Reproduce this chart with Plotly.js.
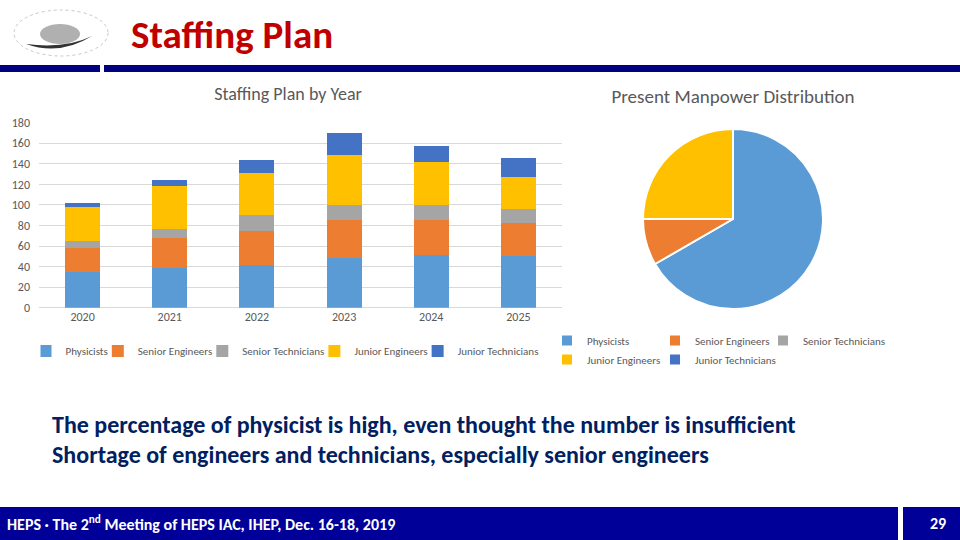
<!DOCTYPE html>
<html>
<head>
<meta charset="utf-8">
<script src="https://cdn.plot.ly/plotly-3.0.1.min.js"></script>
<style>
  html, body { margin: 0; padding: 0; background: #ffffff; }
  #wrap { position: relative; width: 960px; height: 540px; overflow: hidden; }
  #chart { position: absolute; left: 0; top: 0; width: 960px; height: 540px; }
  #pie { position: absolute; left: 540px; top: 80px; width: 380px; height: 320px; }
</style>
</head>
<body>
<div id="wrap">
  <div id="chart"></div>
  <div id="pie"></div>
</div>
<script>
// ---- data ----
const years = ['2020', '2021', '2022', '2023', '2024', '2025'];
const physicists = [35, 39, 42, 48, 51, 50];
const seniorEngineers = [23, 29, 33, 37, 34, 32];
const seniorTechnicians = [7, 9, 15, 15, 15, 14];
const juniorEngineers = [33, 41, 41, 49, 42, 31];
const juniorTechnicians = [4, 6, 13, 21, 15, 19];
const categories = ['Physicists', 'Senior Engineers', 'Senior Technicians', 'Junior Engineers', 'Junior Technicians'];
const presentStaff = [24, 3, 0, 9, 0];
const colors = ['#5B9BD5', '#ED7D31', '#A5A5A5', '#FFC000', '#4472C4'];

const FONT = "Carlito, Lato, 'Liberation Sans', sans-serif";
const W = 960, H = 540;
const px = x => x / W;
const py = y => 1 - y / H;

const series = [physicists, seniorEngineers, seniorTechnicians, juniorEngineers, juniorTechnicians];
const barTraces = series.map((vals, i) => ({
  type: 'bar',
  name: categories[i],
  x: years,
  y: vals,
  marker: { color: colors[i] },
  hoverinfo: 'x+y+name'
}));

const rect = (x0, y0, x1, y1, color) => ({
  type: 'rect', xref: 'paper', yref: 'paper',
  x0: px(x0), x1: px(x1), y0: py(y1), y1: py(y0),
  fillcolor: color, line: { width: 0 }, layer: 'above'
});

const layout = {
  width: W, height: H,
  margin: { l: 0, r: 0, t: 0, b: 0 },
  paper_bgcolor: 'rgba(0,0,0,0)',
  plot_bgcolor: 'rgba(0,0,0,0)',
  font: { family: FONT, color: '#595959' },
  barmode: 'stack',
  bargap: 0.6,
  title: {
    text: 'Staffing Plan by Year',
    x: px(288), xanchor: 'center', xref: 'paper',
    y: py(94), yanchor: 'middle', yref: 'paper',
    font: { family: FONT, size: 18, color: '#595959' }
  },
  xaxis: {
    domain: [px(39), px(562)],
    type: 'category',
    showgrid: false, zeroline: false, showline: false,
    ticks: '', tickfont: { size: 12, color: '#595959' }
  },
  yaxis: {
    domain: [py(307.7), py(122.7)],
    range: [0, 180], dtick: 20,
    gridcolor: '#d9d9d9', gridwidth: 1,
    zeroline: true, zerolinecolor: '#d9d9d9', zerolinewidth: 1,
    showline: false, ticks: '',
    ticklabelstandoff: 8,
    tickfont: { size: 12, color: '#595959' }
  },
  legend: {
    orientation: 'h',
    x: px(292), xanchor: 'center',
    y: py(351), yanchor: 'middle',
    font: { family: FONT, size: 11, color: '#595959' },
    itemwidth: 30,
    indentation: -15,
    traceorder: 'normal',
    bgcolor: 'rgba(0,0,0,0)'
  },
  shapes: [
    rect(0, 65, 100, 72, '#000080'),
    rect(104, 65, 960, 72, '#000080'),
    rect(0, 507, 898, 540, '#000099'),
    rect(903, 507, 960, 540, '#000099'),
    // rough logo
    { type: 'circle', xref: 'paper', yref: 'paper', x0: px(14), x1: px(108), y0: py(56), y1: py(10),
      line: { color: '#c8c8c8', width: 1, dash: 'dot' }, fillcolor: 'rgba(0,0,0,0)' },
    { type: 'circle', xref: 'paper', yref: 'paper', x0: px(40), x1: px(80), y0: py(44), y1: py(24),
      line: { width: 0 }, fillcolor: '#b0b0b0' },
    { type: 'path', xref: 'paper', yref: 'paper',
      path: 'M ' + px(26) + ' ' + py(44) + ' Q ' + px(60) + ' ' + py(56) + ' ' + px(92) + ' ' + py(36) +
            ' Q ' + px(66) + ' ' + py(49) + ' ' + px(26) + ' ' + py(44) + ' Z',
      line: { width: 0 }, fillcolor: '#333333' }
  ],
  annotations: [
    { text: '<b>Staffing Plan</b>', xref: 'paper', yref: 'paper', x: px(129), y: py(34),
      xanchor: 'left', yanchor: 'middle', showarrow: false,
      font: { family: FONT, size: 39, color: '#C00000' } },
    { text: '<b>The percentage of physicist is high, even thought the number is insufficient</b>',
      xref: 'paper', yref: 'paper', x: px(50), y: py(424), xanchor: 'left', yanchor: 'middle', showarrow: false,
      font: { family: FONT, size: 24, color: '#002060' } },
    { text: '<b>Shortage of engineers and technicians, especially senior engineers</b>',
      xref: 'paper', yref: 'paper', x: px(50), y: py(454), xanchor: 'left', yanchor: 'middle', showarrow: false,
      font: { family: FONT, size: 24, color: '#002060' } },
    { text: '<b>HEPS · The 2<sup>nd</sup> Meeting of HEPS IAC, IHEP, Dec. 16-18, 2019</b>',
      xref: 'paper', yref: 'paper', x: px(5), y: py(523), xanchor: 'left', yanchor: 'middle', showarrow: false,
      font: { family: FONT, size: 16, color: '#ffffff' } },
    { text: '<b>29</b>', xref: 'paper', yref: 'paper', x: px(938), y: py(523),
      xanchor: 'center', yanchor: 'middle', showarrow: false,
      font: { family: FONT, size: 16, color: '#ffffff' } }
  ]
};

Plotly.newPlot('chart', barTraces, layout, { displayModeBar: false, staticPlot: true });

// ---- pie ----
const PL = 540, PT = 80, PW = 380, PH = 320;
const pieTrace = {
  type: 'pie',
  labels: categories,
  values: presentStaff,
  marker: { colors: colors, line: { color: '#ffffff', width: 2 } },
  sort: false,
  direction: 'clockwise',
  rotation: 0,
  textinfo: 'none',
  domain: { x: [(643 - PL) / PW, (823 - PL) / PW], y: [(PH - 229) / PH, (PH - 49) / PH] }
};
const pieLayout = {
  width: PW, height: PH,
  margin: { l: 0, r: 0, t: 0, b: 0 },
  paper_bgcolor: 'rgba(0,0,0,0)',
  font: { family: FONT, color: '#595959' },
  title: {
    text: 'Present Manpower Distribution',
    x: (733 - PL) / PW, xanchor: 'center', xref: 'paper',
    y: 1 - 16 / PH, yanchor: 'middle', yref: 'paper',
    font: { family: FONT, size: 19, color: '#595959' }
  },
  legend: {
    orientation: 'h',
    x: (562 - PL) / PW, xanchor: 'left',
    y: 1 - 246 / PH, yanchor: 'top',
    entrywidth: 78, entrywidthmode: 'pixels',
    itemwidth: 30,
    indentation: -15,
    font: { family: FONT, size: 11, color: '#595959' },
    bgcolor: 'rgba(0,0,0,0)'
  }
};
Plotly.newPlot('pie', [pieTrace], pieLayout, { displayModeBar: false, staticPlot: true });
</script>
</body>
</html>
